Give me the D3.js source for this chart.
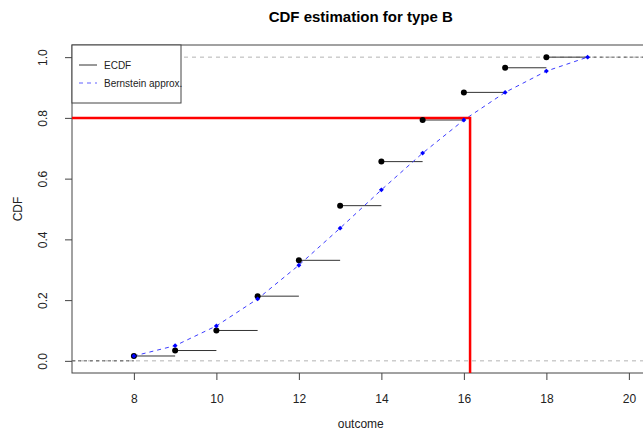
<!DOCTYPE html>
<html>
<head>
<meta charset="utf-8">
<script src="https://cdn.jsdelivr.net/npm/d3@7"></script>
<style>
  body { margin: 0; background: white; }
  svg { display: block; font-family: "Liberation Sans", Arial, sans-serif; }
</style>
</head>
<body>
<div id="chart"></div>
<script>
// ECDF of the observed outcomes (knots 8..18)
const ecdfX = [8, 9, 10, 11, 12, 13, 14, 15, 16, 17, 18]
const ecdfY = [0.016, 0.034, 0.100, 0.213, 0.331, 0.511, 0.656, 0.793, 0.884, 0.965, 1.0]
// Bernstein polynomial approximation evaluated at 8..19
const bernX = [8, 9, 10, 11, 12, 13, 14, 15, 16, 17, 18, 19]
const bernY = [0.016, 0.050, 0.115, 0.204, 0.315, 0.437, 0.563, 0.684, 0.793, 0.884, 0.954, 1.0]
// 80% quantile marker
const level = 0.8
const quantile = 16.15
const xTicks = [8, 10, 12, 14, 16, 18, 20]
const yTicks = [0, 0.2, 0.4, 0.6, 0.8, 1.0]

const W = 643, H = 430
const plot = { left: 72, top: 45, right: 649.5, bottom: 373 }

const svg = d3.select('#chart').append('svg')
    .attr('width', W).attr('height', H)

const x = d3.scaleLinear().domain([6.5, 20.5]).range([plot.left, plot.right])
const y = d3.scaleLinear().domain([-0.04, 1.04]).range([plot.bottom, plot.top])

// Title and axis titles
svg.append('text')
    .attr('x', (plot.left + plot.right) / 2).attr('y', 22)
    .attr('text-anchor', 'middle')
    .attr('font-size', 15).attr('font-weight', 'bold')
    .text('CDF estimation for type B')
svg.append('text')
    .attr('x', (plot.left + plot.right) / 2).attr('y', 428)
    .attr('text-anchor', 'middle').attr('font-size', 12).attr('fill', '#222')
    .text('outcome')
svg.append('text')
    .attr('transform', `translate(22,${(plot.top + plot.bottom) / 2}) rotate(-90)`)
    .attr('text-anchor', 'middle').attr('font-size', 12).attr('fill', '#222')
    .text('CDF')

// Axes
const xAxis = svg.append('g')
    .attr('transform', `translate(0,${plot.bottom})`)
    .call(d3.axisBottom(x).tickValues(xTicks).tickSize(7).tickPadding(14).tickFormat(d3.format('d')))
xAxis.select('.domain').remove()
const yAxis = svg.append('g')
    .attr('transform', `translate(${plot.left},0)`)
    .call(d3.axisLeft(y).tickValues(yTicks).tickSize(7).tickFormat(d3.format('.1f')))
yAxis.select('.domain').remove()
yAxis.selectAll('text')
    .attr('transform', 'translate(-29,0) rotate(-90)')
    .attr('x', 0).attr('y', 0).attr('dy', '0.35em')
    .attr('text-anchor', 'middle')
svg.selectAll('.tick line').attr('stroke', '#444')
svg.selectAll('.tick text').attr('font-size', 12).attr('fill', '#222')
    .attr('font-family', '"Liberation Sans", Arial, sans-serif')

// Plot box
svg.append('rect')
    .attr('x', plot.left).attr('y', plot.top)
    .attr('width', plot.right - plot.left).attr('height', plot.bottom - plot.top)
    .attr('fill', 'none').attr('stroke', '#444')

const g = svg.append('g')

// Reference lines at 0 and 1
g.selectAll('line.ref').data([0, 1]).join('line')
    .attr('x1', plot.left).attr('x2', plot.right)
    .attr('y1', d => y(d)).attr('y2', d => y(d))
    .attr('stroke', '#b3b3b3').attr('stroke-dasharray', '4,4')

// ECDF tails
g.append('line')
    .attr('x1', plot.left).attr('x2', x(ecdfX[0]))
    .attr('y1', y(0)).attr('y2', y(0))
    .attr('stroke', '#555').attr('stroke-dasharray', '3,3')
g.append('line')
    .attr('x1', x(bernX[bernX.length - 1])).attr('x2', plot.right)
    .attr('y1', y(1)).attr('y2', y(1))
    .attr('stroke', '#555').attr('stroke-dasharray', '3,3')

// ECDF steps
g.selectAll('line.step').data(ecdfX).join('line')
    .attr('x1', d => x(d)).attr('x2', (d, i) => x(d + 1))
    .attr('y1', (d, i) => y(ecdfY[i])).attr('y2', (d, i) => y(ecdfY[i]))
    .attr('stroke', '#333').attr('stroke-width', 1)

// Bernstein approximation
const line = d3.line().x(d => x(d[0])).y(d => y(d[1]))
g.append('path')
    .datum(bernX.map((d, i) => [d, bernY[i]]))
    .attr('d', line)
    .attr('fill', 'none').attr('stroke', '#3c3cff')
    .attr('stroke-dasharray', '4,4')

// Quantile marker
g.append('path')
    .attr('d', `M${x(6.5)},${y(level)}H${x(quantile)}V${plot.bottom}`)
    .attr('fill', 'none').attr('stroke', '#ff0000').attr('stroke-width', 2.5)

// Points
g.selectAll('circle.ecdf').data(ecdfX).join('circle')
    .attr('cx', d => x(d)).attr('cy', (d, i) => y(ecdfY[i]))
    .attr('r', 3).attr('fill', '#000')
g.selectAll('path.bern').data(bernX).join('path')
    .attr('transform', (d, i) => `translate(${x(d)},${y(bernY[i])}) rotate(45)`)
    .attr('d', d3.symbol(d3.symbolSquare, 12))
    .attr('fill', '#0000ff')

// Legend
const leg = svg.append('g')
leg.append('rect')
    .attr('x', 72).attr('y', 45).attr('width', 109).attr('height', 58)
    .attr('fill', 'white').attr('stroke', '#444')
const items = [
    { label: 'ECDF', color: '#333', dash: null },
    { label: 'Bernstein approx.', color: '#6060ff', dash: '4,4' }
]
items.forEach((it, i) => {
    const yy = 65 + i * 18
    leg.append('line')
        .attr('x1', 79).attr('x2', 97).attr('y1', yy).attr('y2', yy)
        .attr('stroke', it.color).attr('stroke-dasharray', it.dash)
    leg.append('text')
        .attr('x', 104).attr('y', yy).attr('dy', '0.35em')
        .attr('font-size', 10).attr('fill', '#222')
        .text(it.label)
})
</script>
</body>
</html>
